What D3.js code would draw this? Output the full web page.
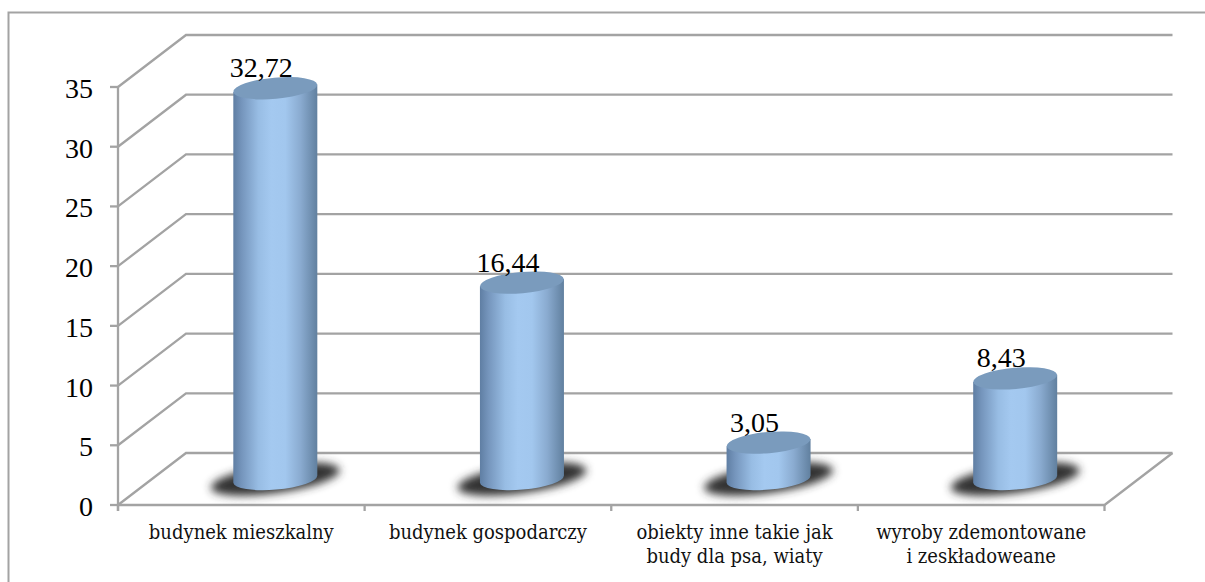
<!DOCTYPE html>
<html><head><meta charset="utf-8">
<script src="https://cdn.jsdelivr.net/npm/d3@7"></script>
<style>html,body{margin:0;padding:0;background:#fff;overflow:hidden}svg{display:block}text{font-family:"Liberation Serif",serif;fill:#000}.cat{font-family:"DejaVu Serif Condensed","DejaVu Serif",serif;fill:#111}</style>
</head><body><svg id="c" width="1205" height="582"></svg>
<script>
const categories=[["budynek mieszkalny"],["budynek gospodarczy"],["obiekty inne takie jak","budy dla psa, wiaty"],["wyroby zdemontowane","i zeskładoweane"]];
const values=[32.72,16.44,3.05,8.43];
const valueLabels=["32,72","16,44","3,05","8,43"];
const yTicks=[0,5,10,15,20,25,30,35];
const svg=d3.select("#c");
const x0=118,x1=1104.5,yb=505,yt=87,dx=68,dy=-52;
const grey="#a3a3a3";
const y=d3.scaleLinear().domain([0,35]).range([yb,yt]);
const x=d3.scaleBand().domain(d3.range(categories.length)).range([x0,x1]);
svg.append("path").attr("d","M8.5,582V12.5H1205").attr("fill","none").attr("stroke",grey).attr("stroke-width",2);
const defs=svg.append("defs");
const g=defs.append("linearGradient").attr("id","cyl");
[[0,"#5f7ea3"],[.1,"#7595bc"],[.3,"#98bde4"],[.45,"#a4c9f0"],[.62,"#a2c7ee"],[.8,"#8aabd0"],[1,"#61809f"]].forEach(s=>g.append("stop").attr("offset",s[0]).attr("stop-color",s[1]));
defs.append("filter").attr("id","blur").attr("x","-30%").attr("y","-60%").attr("width","160%").attr("height","220%").append("feGaussianBlur").attr("stdDeviation",4.5);
const grid=svg.append("g").attr("fill","none").attr("stroke",grey).attr("stroke-width",2.3);
yTicks.forEach(t=>{
  grid.append("path").attr("d",`M${x0},${y(t)}L${x0+dx},${y(t)+dy}L${x1+dx},${y(t)+dy}`);
  grid.append("line").attr("x1",x0-8).attr("x2",x0).attr("y1",y(t)).attr("y2",y(t));
});
grid.append("path").attr("d",`M${x0},${yt}V${yb+6}`);
grid.append("path").attr("d",`M${x0},${yb}H${x1}L${x1+dx},${yb+dy}`);
d3.range(categories.length+1).forEach(i=>{
  const px=i<categories.length?x(i):x1;
  grid.append("line").attr("x1",px).attr("x2",px).attr("y1",yb).attr("y2",yb+6);
});
svg.append("g").selectAll("text").data(yTicks).join("text").attr("x",x0-25).attr("y",d=>y(d)+11).attr("text-anchor","end").attr("font-size",28).text(d=>d);
const rx=42,ry=10.6,rot=-5,baseDy=-26;
const bars=svg.append("g");
values.forEach((v,i)=>{
  const cx=x(i)+x.bandwidth()/2+34;
  const by=y(0)+baseDy, ty=y(v)+baseDy;
  bars.append("ellipse").attr("cx",cx).attr("cy",by).attr("rx",65).attr("ry",14).attr("transform",`rotate(-8 ${cx} ${by})`).attr("fill","#333").attr("filter","url(#blur)");
  const dyEdge=rx*Math.sin(rot*Math.PI/180);
  const lx=cx-rx, rxx=cx+rx;
  bars.append("path").attr("d",`M${lx},${ty-dyEdge}L${lx},${by-dyEdge}A${rx},${ry} ${rot} 0 0 ${rxx},${by+dyEdge}L${rxx},${ty+dyEdge}Z`).attr("fill","url(#cyl)");
  bars.append("ellipse").attr("cx",cx).attr("cy",ty).attr("rx",rx).attr("ry",ry).attr("transform",`rotate(${rot} ${cx} ${ty})`).attr("fill","#7a9bbd");
  svg.append("text").attr("x",cx-14).attr("y",ty-11).attr("text-anchor","middle").attr("font-size",28).text(valueLabels[i]);
  const t=svg.append("text").attr("class","cat").attr("text-anchor","middle").attr("font-size",20);
  categories[i].forEach((l,j)=>t.append("tspan").attr("x",x(i)+x.bandwidth()/2).attr("y",539+j*24).text(l));
});
</script></body></html>
